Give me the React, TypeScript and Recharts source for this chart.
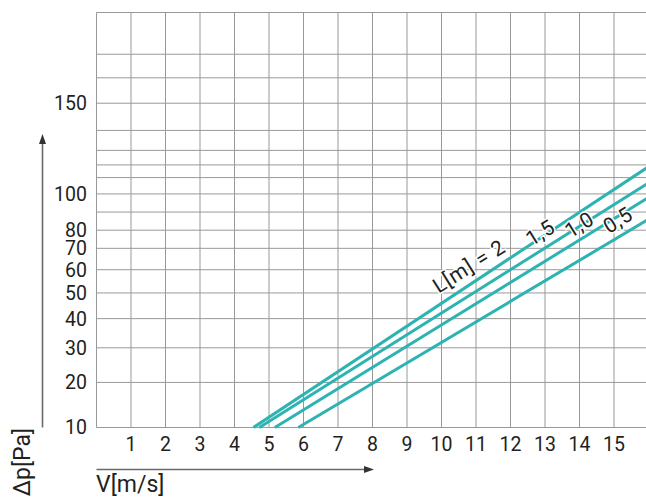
import React from 'react';
import { LineChart, Line, XAxis, YAxis, CartesianGrid, ReferenceDot } from 'recharts';

// V [m/s] grid and labels
const velocityTicks = [0, 1, 2, 3, 4, 5, 6, 7, 8, 9, 10, 11, 12, 13, 14, 15, 16];
const velocityLabels = [1, 2, 3, 4, 5, 6, 7, 8, 9, 10, 11, 12, 13, 14, 15];

// Δp [Pa] grid and labels
const pressureTicks = [10, 20, 30, 40, 50, 60, 70, 80, 90, 100, 109, 116, 124, 135, 150, 164, 177, 200];
const pressureLabels = [10, 20, 30, 40, 50, 60, 70, 80, 100, 150];

// pressure drop per duct length L [m]
const lengthTwo = [{ v: 4.55, dp: 10 }, { v: 16, dp: 115 }];
const lengthOneHalf = [{ v: 4.72, dp: 10 }, { v: 16, dp: 106 }];
const lengthOne = [{ v: 5.17, dp: 10 }, { v: 16, dp: 98 }];
const lengthHalf = [{ v: 5.85, dp: 10 }, { v: 16, dp: 86 }];

const curveNames = ['L[m] = 2', '1,5', '1,0', '0,5'];
const curveNameV = [10.8, 12.87, 14.0, 15.12];
const curveNameDp = [61.5, 78.5, 83, 85.5];

const TEAL = '#2db3b1';
const GRID = '#999999';
const INK = '#231f20';
const FONT = 'Roboto, "DejaVu Sans", sans-serif';

// square-root spacing up to 70 Pa, then even spacing above
const SQRT_LIMIT = 70;
const UPPER_RATE = 0.0527;
const warp = (p: number) =>
  p <= SQRT_LIMIT ? Math.sqrt(p) : Math.sqrt(SQRT_LIMIT) + (p - SQRT_LIMIT) * UPPER_RATE;

function pressureScale(): any {
  let dom: number[] = [10, 200];
  let rng: number[] = [0, 1];
  const scale: any = (p: number) => {
    const a = warp(dom[0]);
    const b = warp(dom[1]);
    return rng[0] + ((warp(Number(p)) - a) / (b - a)) * (rng[1] - rng[0]);
  };
  scale.domain = (d?: any[]) => {
    if (d === undefined) return dom.slice();
    dom = d.map(Number);
    return scale;
  };
  scale.range = (r?: any[]) => {
    if (r === undefined) return rng.slice();
    rng = r.map(Number);
    return scale;
  };
  scale.ticks = () => pressureTicks.slice();
  scale.copy = () => pressureScale().domain(dom).range(rng);
  return scale;
}

const tagRenderer = (text: string) => (props: any) => {
  const vb = props.viewBox || {};
  const x = (vb.x ?? props.x ?? 0) + (vb.width ?? 0) / 2;
  const y = (vb.y ?? props.y ?? 0) + (vb.height ?? 0) / 2;
  return (
    <text
      x={x}
      y={y}
      transform={`rotate(-32 ${x} ${y})`}
      textAnchor="middle"
      dominantBaseline="central"
      fontFamily={FONT}
      fontSize={21}
      letterSpacing={0.8}
      fill={INK}
      stroke="#fff"
      strokeWidth={3}
      paintOrder="stroke"
    >
      {text}
    </text>
  );
};

const App: React.FC = () => {
  const series = [lengthTwo, lengthOneHalf, lengthOne, lengthHalf];
  return (
    <div style={{ position: 'absolute', left: 0, top: 0, width: 646, height: 498, background: '#fff' }}>
      <LineChart width={646} height={498} margin={{ top: 12.5, right: -2.5, left: 0, bottom: 40.5 }}>
        <CartesianGrid stroke={GRID} strokeWidth={1} />
        <XAxis
          type="number"
          dataKey="v"
          domain={[0, 16]}
          ticks={velocityTicks}
          interval={0}
          height={30}
          axisLine={false}
          tickLine={false}
          tickSize={0}
          tickMargin={9.5}
          tick={{ fill: INK, fontSize: 19.5, fontFamily: FONT }}
          tickFormatter={(t: number) => (velocityLabels.includes(t) ? String(t) : '')}
        />
        <YAxis
          type="number"
          dataKey="dp"
          domain={[10, 200]}
          scale={pressureScale()}
          ticks={pressureTicks}
          interval={0}
          width={96.5}
          axisLine={false}
          tickLine={false}
          tickSize={0}
          tickMargin={9.5}
          tick={{ fill: INK, fontSize: 19.5, fontFamily: FONT }}
          tickFormatter={(t: number) => (pressureLabels.includes(t) ? String(t) : '')}
        />
        {series.map((d, i) => (
          <Line
            key={curveNames[i]}
            data={d}
            dataKey="dp"
            type="linear"
            stroke={TEAL}
            strokeWidth={3}
            dot={false}
            isAnimationActive={false}
          />
        ))}
        {curveNames.map((name, i) => (
          <ReferenceDot
            key={name}
            x={curveNameV[i]}
            y={curveNameDp[i]}
            r={0}
            fill="none"
            stroke="none"
            label={tagRenderer(name)}
          />
        ))}
      </LineChart>

      {/* axis arrows and titles */}
      <svg
        width={646}
        height={498}
        style={{ position: 'absolute', left: 0, top: 0, pointerEvents: 'none' }}
      >
        <line x1={42.5} y1={427.5} x2={42.5} y2={142} stroke="#6a6a6a" strokeWidth={1.6} />
        <polygon points="42.5,134 39,144 46,144" fill="#333" />
        <line x1={96.5} y1={469.5} x2={366} y2={469.5} stroke="#6a6a6a" strokeWidth={1.6} />
        <polygon points="374,469.5 364,466 364,473" fill="#333" />
        <text
          x={30}
          y={428}
          transform="rotate(-90 30 428)"
          textAnchor="end"
          fontFamily={FONT}
          fontSize={23}
          fill={INK}
        >
          Δp[Pa]
        </text>
        <text x={96} y={492} fontFamily={FONT} fontSize={23} fill={INK}>
          V[m/s]
        </text>
      </svg>
    </div>
  );
};

export default App;
